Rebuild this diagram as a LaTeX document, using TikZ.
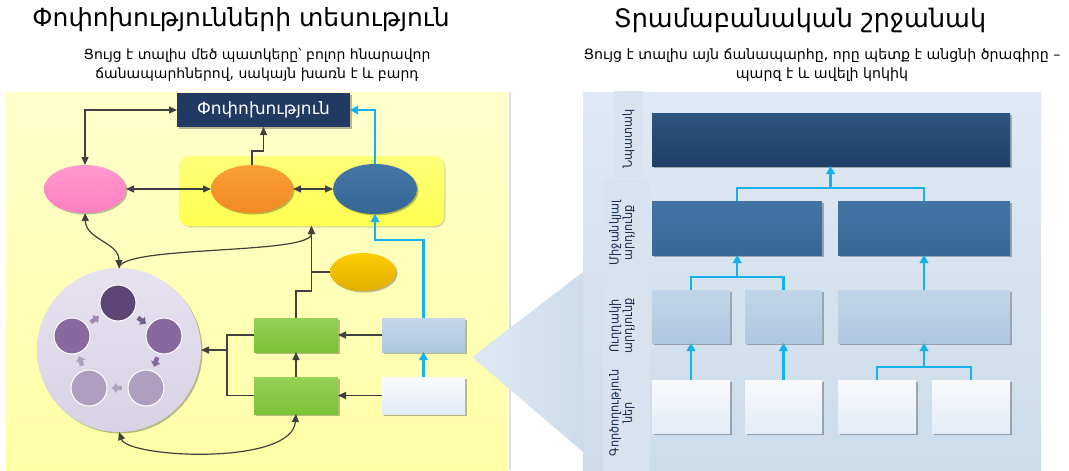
\documentclass[tikz,border=0pt]{standalone}
\usepackage{fontspec}
\setmainfont{DejaVu Sans}
\newfontfamily\labelfont{DejaVu Sans Condensed}
\usetikzlibrary{arrows.meta,shapes.geometric,shapes.arrows,shadows,calc}

\definecolor{navy}{HTML}{213A63}
\definecolor{linegray}{HTML}{404040}
\definecolor{cyanline}{HTML}{14B1EA}
\definecolor{labelblue}{HTML}{172F50}
\definecolor{pinkT}{HTML}{FF9ACF}\definecolor{pinkB}{HTML}{FF7DC0}
\definecolor{orangeT}{HTML}{FBA032}\definecolor{orangeB}{HTML}{F28A22}
\definecolor{blueT}{HTML}{4577A6}\definecolor{blueB}{HTML}{356796}
\definecolor{goldT}{HTML}{FFCC00}\definecolor{goldB}{HTML}{E2AE00}
\definecolor{greenT}{HTML}{96D155}\definecolor{greenB}{HTML}{7BC236}
\definecolor{lbT}{HTML}{C4D7EA}\definecolor{lbB}{HTML}{AEC8E0}
\definecolor{whT}{HTML}{FAFBFD}\definecolor{whB}{HTML}{E2EAF4}
\definecolor{grpT}{HTML}{FFFF7A}\definecolor{grpB}{HTML}{FFFF50}
\definecolor{circT}{HTML}{E6E2EF}\definecolor{circB}{HTML}{D8D2E4}
\definecolor{purD}{HTML}{5B4676}\definecolor{purM}{HTML}{8769A0}\definecolor{purL}{HTML}{AE9FC0}
\definecolor{goalT}{HTML}{2C5580}\definecolor{goalB}{HTML}{203F66}
\definecolor{midT}{HTML}{4274A6}\definecolor{midB}{HTML}{376897}
\definecolor{outT}{HTML}{C0D5E9}\definecolor{outB}{HTML}{AEC8E0}
\definecolor{actT}{HTML}{F8FAFD}\definecolor{actB}{HTML}{E4EBF5}
\definecolor{panelT}{HTML}{E0E9F3}\definecolor{panelB}{HTML}{CCDCEA}
\definecolor{stripC}{HTML}{D9E3F0}
\definecolor{yelT}{HTML}{FFFFCC}\definecolor{yelB}{HTML}{FFFFA6}

\begin{document}
\begin{tikzpicture}[x=1pt,y=-1pt,
  every node/.style={inner sep=0pt, outer sep=0pt},
  shadowed/.style={drop shadow={shadow xshift=1.5pt,shadow yshift=-1.5pt,fill=black,opacity=0.28}},
  ell/.style={ellipse, minimum width=82pt, minimum height=48pt, shadowed},
  box/.style={rectangle, shadowed},
  arr/.style={draw=linegray, line width=1.2pt, -{Triangle[length=8pt,width=7pt]}},
  dbl/.style={draw=linegray, line width=1.2pt, {Triangle[length=8pt,width=7pt]}-{Triangle[length=8pt,width=7pt]}},
  plain/.style={draw=linegray, line width=1.2pt},
  carr/.style={draw=cyanline, line width=2.3pt, -{Triangle[length=8pt,width=8.5pt]}},
  cline/.style={draw=cyanline, line width=2.3pt},
  dot/.style={circle, minimum size=36pt, draw=white, line width=1pt},
  pip/.style={single arrow, minimum height=10pt, minimum width=10pt, single arrow head extend=1.5pt, inner sep=1pt},
  vlabel/.style={rotate=90, font=\labelfont\fontsize{12.5}{13.5}\selectfont, text=labelblue, align=center}
]
\useasboundingbox (0,0) rectangle (1069,471);

% titles
\node (t1) at (241,20) {\fontsize{25}{29}\selectfont Փոփոխությունների տեսություն};
\node (t2) at (800,20) {\fontsize{25.5}{29}\selectfont Տրամաբանական շրջանակ};
\node[align=center, font=\fontsize{14}{19.5}\selectfont] (s1) at (257,65)
  {Ցույց է տալիս մեծ պատկերը՝ բոլոր հնարավոր\\ճանապարհներով, սակայն խառն է և բարդ};
\node[align=center, font=\fontsize{14.2}{19.5}\selectfont] (s2) at (822,65)
  {Ցույց է տալիս այն ճանապարհը, որը պետք է անցնի ծրագիրը –\\պարզ է և ավելի կոկիկ};

% background panels
\fill[black!12] (509,92) rectangle (510.5,470);
\shade[top color=yelT, bottom color=yelB] (6,92) rectangle (508,470);
\shade[top color=panelT, bottom color=panelB] (583,92) rectangle (1041,471);
\fill[stripC] (614,91) rectangle (643,178);
\fill[stripC] (603,180) rectangle (650,471);
\shade[left color=panelT, right color=panelB] (472,357) -- (583,272) -- (583,452) -- cycle;

% ---------- theory of change ----------
\shade[top color=grpT, bottom color=grpB, rounded corners=10pt, drop shadow={shadow xshift=1.5pt,shadow yshift=-1.5pt,fill=black,opacity=0.15}]
  (179,156) rectangle (444,226);
\coordinate (grp) at (311.5,226);

\node[box, fill=navy, minimum width=173pt, minimum height=34pt, text=white,
  font=\fontsize{17}{20}\selectfont] (chg) at (263.5,110) {Փոփոխություն};

\node[ell, top color=pinkT, bottom color=pinkB] (pink) at (85,189) {};
\node[ell, top color=orangeT, bottom color=orangeB] (orange) at (252,189) {};
\node[ell, top color=blueT, bottom color=blueB, minimum width=84pt, minimum height=50pt] (blue) at (375,189) {};
\node[ell, top color=goldT, bottom color=goldB, minimum width=66pt, minimum height=38pt] (gold) at (363,272) {};

\node[circle, minimum size=164pt, top color=circT, bottom color=circB, shadowed] (circ) at (119,350) {};
\node[dot, fill=purD] (c1) at (118,303) {};
\node[dot, fill=purM] (c2) at (164,336) {};
\node[dot, fill=purL] (c3) at (146,388) {};
\node[dot, fill=purL] (c4) at (89,388) {};
\node[dot, fill=purM] (c5) at (72,336) {};
\node[pip, fill=purM!80, rotate=36] (p1) at (94,320) {};
\node[pip, fill=purD!85, rotate=-36] (p2) at (141,320) {};
\node[pip, fill=purM, rotate=-108] (p3) at (156,361) {};
\node[pip, fill=purL, rotate=180] (p4) at (118,388) {};
\node[pip, fill=purL, rotate=108] (p5) at (81,362) {};

\node[box, top color=greenT, bottom color=greenB, minimum width=84pt, minimum height=34pt] (g1) at (296,335) {};
\node[box, top color=greenT, bottom color=greenB, minimum width=84pt, minimum height=37pt] (g2) at (296,395.5) {};
\node[box, top color=lbT, bottom color=lbB, minimum width=83pt, minimum height=34pt] (lb) at (423.5,335) {};
\node[box, top color=whT, bottom color=whB, minimum width=83pt, minimum height=37pt] (wh) at (423.5,395.5) {};

% connectors
\draw[dbl] (pink.north) |- (chg.west);
\draw[arr] (orange.north) -- ++(0,-14) -| (chg.south);
\draw[carr] (blue.north) |- (chg.east);
\draw[dbl] (pink.east) -- (orange.west);
\draw[dbl] (orange.east) -- (blue.west);
\draw[dbl] (pink.south) .. controls (86,240) and (119,242) .. (circ.north);
\draw[arr] (circ.north) .. controls (121,245) and (311.5,255) .. (grp);
\draw[arr] (g1.north) -- ++(0,-27) -| (grp);
\draw[plain] (grp |- gold.west) -- (gold.west);
\draw[carr] (lb.north) -- ++(0,-78) -| (blue.south);
\draw[carr] (wh.north) -- (lb.south);
\draw[arr] (lb.west) -- (g1.east);
\draw[arr] (wh.west) -- (g2.east);
\draw[arr] (g2.north) -- (g1.south);
\coordinate (jn) at (227,350);
\draw[plain] (g1.west) -| (jn |- g2.west) -- (g2.west);
\draw[arr] (jn) -- (circ.east);
\draw[dbl] (circ.south) .. controls (128,458) and (292,466) .. (g2.south);

% ---------- logical framework ----------
\node[box, top color=goalT, bottom color=goalB, minimum width=358pt, minimum height=53pt] (goal) at (831,139.5) {};
\node[box, top color=midT, bottom color=midB, minimum width=170pt, minimum height=54pt] (m1) at (737,228) {};
\node[box, top color=midT, bottom color=midB, minimum width=172pt, minimum height=54pt] (m2) at (924,228) {};
\node[box, top color=outT, bottom color=outB, minimum width=78pt, minimum height=53pt] (o1) at (691,316.5) {};
\node[box, top color=outT, bottom color=outB, minimum width=77pt, minimum height=53pt] (o2) at (783.5,316.5) {};
\node[box, top color=outT, bottom color=outB, minimum width=172pt, minimum height=53pt] (o3) at (924,316.5) {};
\node[box, top color=actT, bottom color=actB, minimum width=78pt, minimum height=53pt] (a1) at (691,406.5) {};
\node[box, top color=actT, bottom color=actB, minimum width=77pt, minimum height=53pt] (a2) at (783.5,406.5) {};
\node[box, top color=actT, bottom color=actB, minimum width=78pt, minimum height=53pt] (a3) at (877,406.5) {};
\node[box, top color=actT, bottom color=actB, minimum width=78pt, minimum height=53pt] (a4) at (971,406.5) {};

\node[vlabel] (l1) at (628.5,139) {Նպատակ};
\node[vlabel] (l2) at (622,233) {Միջանկյալ\\արդյունք};
\node[vlabel] (l3) at (622,326) {Ուղղակի\\արդյունք};
\node[vlabel] (l4) at (622,413) {Գործողություն\\ներ};

\coordinate (jg) at ($(m1.north)!0.5!(m2.north)+(0,-13)$);
\draw[cline] (m1.north) -- ++(0,-13) -| (m2.north);
\draw[carr] (jg) -- (jg |- goal.south);
\coordinate (jm) at ($(o1.north)!0.5!(o2.north)+(0,-13)$);
\draw[cline] (o1.north) -- ++(0,-13) -| (o2.north);
\draw[carr] (jm) -- (jm |- m1.south);
\draw[carr] (o3.north) -- (m2.south);
\draw[carr] (a1.north) -- (o1.south);
\draw[carr] (a2.north) -- (o2.south);
\coordinate (ja) at ($(a3.north)!0.5!(a4.north)+(0,-13)$);
\draw[cline] (a3.north) -- ++(0,-13) -| (a4.north);
\draw[carr] (ja) -- (ja |- o3.south);
\end{tikzpicture}
\end{document}
